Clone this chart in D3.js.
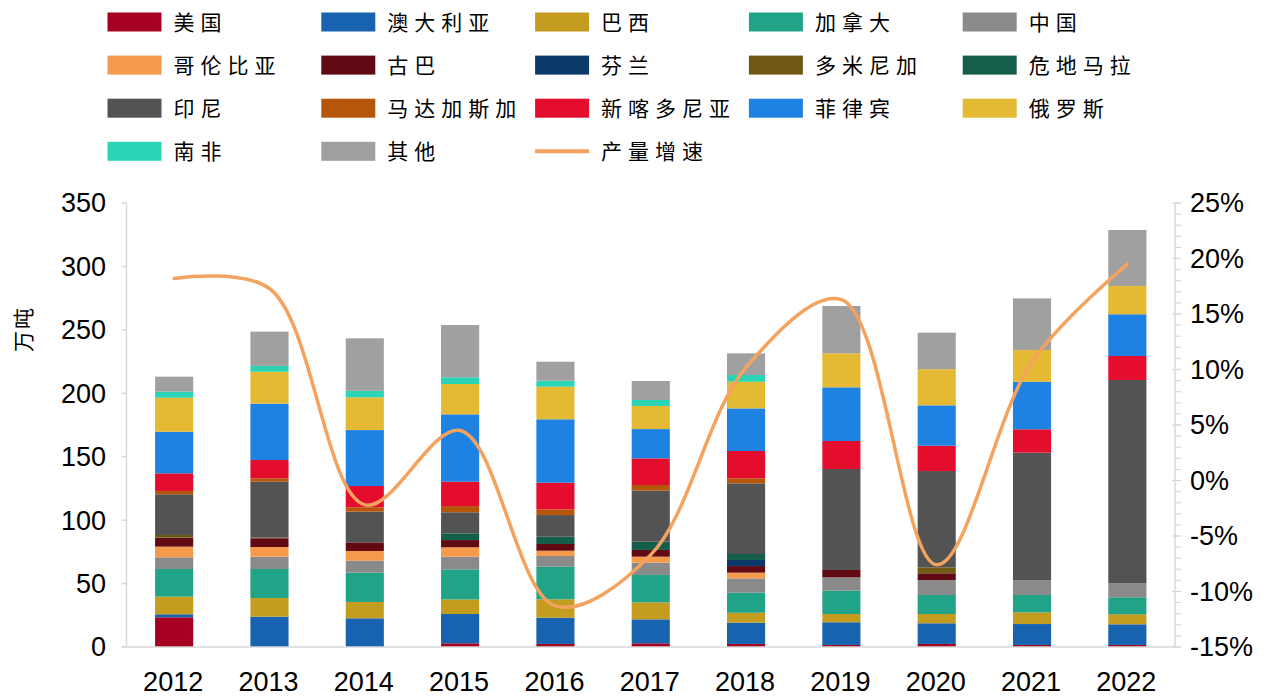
<!DOCTYPE html>
<html>
<head>
<meta charset="utf-8">
<script src="https://cdn.jsdelivr.net/npm/d3@7/dist/d3.min.js"></script>
<style>
  html, body { margin: 0; padding: 0; background: #fff; }
  svg { display: block; }
  .tick-label { font-family: "Liberation Sans", Arial, sans-serif; font-size: 27px; fill: #000; }
  .cjk { font-family: "Noto Sans CJK SC", sans-serif; fill: #000; }
</style>
</head>
<body>
<svg id="chart" width="1269" height="697"></svg>
<script>
// Years on the category axis
const years = ["2012", "2013", "2014", "2015", "2016", "2017", "2018", "2019", "2020", "2021", "2022"];

// Production by country, 万吨 (stacked bottom to top in this order)
const usa        = [23.4, 0,    0,    2.9,  2.4,  2.9,  2.4,  1.6,  2.4,  1.6,  1.6];
const australia  = [2.4,  23.9, 22.6, 23.1, 20.7, 18.9, 16.8, 17.9, 16.3, 16.5, 16.3];
const brazil     = [13.9, 14.7, 12.9, 11.5, 14.5, 13.4, 7.8,  6.5,  7.3,  9.2,  7.9];
const canada     = [21.8, 22.9, 23.1, 23.7, 25.7, 21.6, 15.8, 18.4, 15.0, 13.7, 13.4];
const china      = [9.2,  9.7,  9.4,  10.0, 8.4,  9.7,  11.3, 10.5, 11.8, 11.8, 11.0];
const colombia   = [8.4,  7.6,  7.7,  7.4,  4.2,  4.7,  4.5,  0,    0,    0,    0];
const cuba       = [7.1,  6.9,  6.8,  5.7,  5.3,  5.3,  5.2,  5.8,  5.3,  0,    0];
const finland    = [0,    0,    0,    0,    0,    0,    4.8,  0,    0,    0,    0];
const dominican  = [2.1,  0.5,  0,    0,    0,    0,    0,    0,    4.7,  0,    0];
const guatemala  = [0,    0,    0,    5.3,  5.7,  6.5,  4.7,  0,    0,    0,    0];
const indonesia  = [32.1, 44.1, 24.2, 16.6, 17.1, 40.2, 55.7, 79.6, 75.9, 100.4, 160.3];
const madagascar = [2.6,  2.7,  3.4,  4.9,  4.5,  4.5,  4.0,  0,    0,    0,    0];
const newCaledonia = [13.9, 14.4, 16.8, 19.2, 21.0, 21.0, 21.5, 22.1, 20.0, 18.4, 18.9];
const philippines = [32.8, 44.4, 44.1, 53.1, 50.0, 23.1, 33.6, 42.3, 31.8, 37.5, 32.9];
const russia     = [26.8, 25.2, 25.8, 23.9, 25.7, 18.2, 21.0, 26.8, 28.5, 25.0, 22.3];
const southAfrica = [4.8, 4.6,  5.2,  5.3,  4.7,  4.7,  5.3,  0,    0,    0,    0];
const others     = [11.8, 27.0, 41.3, 41.2, 15.0, 15.0, 17.1, 37.3, 28.8, 40.7, 44.1];

// Year-on-year output growth, %
const growth = [18.2, 17.3, -2.2, 4.5, -11.3, -6.7, 10.2, 16.3, -7.6, 10.7, 19.5];

// Axis ticks
const leftTicks = [0, 50, 100, 150, 200, 250, 300, 350];
const rightTicks = [-15, -10, -5, 0, 5, 10, 15, 20, 25];

const series = [
  { name: "美国", values: usa, color: "#A50021" },
  { name: "澳大利亚", values: australia, color: "#1763B0" },
  { name: "巴西", values: brazil, color: "#C49C1F" },
  { name: "加拿大", values: canada, color: "#20A386" },
  { name: "中国", values: china, color: "#8A8A8A" },
  { name: "哥伦比亚", values: colombia, color: "#F59A4B" },
  { name: "古巴", values: cuba, color: "#610A14" },
  { name: "芬兰", values: finland, color: "#0B3A6A" },
  { name: "多米尼加", values: dominican, color: "#715913" },
  { name: "危地马拉", values: guatemala, color: "#145E4B" },
  { name: "印尼", values: indonesia, color: "#535353" },
  { name: "马达加斯加", values: madagascar, color: "#B5560B" },
  { name: "新喀多尼亚", values: newCaledonia, color: "#E50D2E" },
  { name: "菲律宾", values: philippines, color: "#1E82E2" },
  { name: "俄罗斯", values: russia, color: "#E4B934" },
  { name: "南非", values: southAfrica, color: "#2AD4B4" },
  { name: "其他", values: others, color: "#A0A0A0" }
];
const lineColor = "#F4A35E";
const axisColor = "#D9D9D9";

const svg = d3.select("#chart");

const plot = { left: 126.5, right: 1175, top: 203, bottom: 647 };

const x = d3.scaleBand()
  .domain(years)
  .range([plot.left, plot.right])
  .paddingInner(0.6)
  .paddingOuter(0.3);

const yLeft = d3.scaleLinear().domain([0, 350]).range([plot.bottom, plot.top]);
const yRight = d3.scaleLinear().domain([-15, 25]).range([plot.bottom, plot.top]);

// Stack table built from the series arrays
const table = years.map((yr, i) => {
  const row = { year: yr };
  series.forEach(s => { row[s.name] = s.values[i]; });
  return row;
});
const stacked = d3.stack().keys(series.map(s => s.name))(table);

// Bars
const layers = svg.append("g").selectAll("g")
  .data(stacked)
  .join("g")
  .attr("fill", (d, i) => series[i].color);

layers.selectAll("rect")
  .data(d => d)
  .join("rect")
  .attr("x", d => x(d.data.year))
  .attr("width", x.bandwidth())
  .attr("y", d => yLeft(d[1]))
  .attr("height", d => Math.max(0, yLeft(d[0]) - yLeft(d[1])));

// Left axis
const gL = svg.append("g");
gL.append("line")
  .attr("x1", plot.left).attr("x2", plot.left)
  .attr("y1", plot.top).attr("y2", plot.bottom)
  .attr("stroke", axisColor).attr("stroke-width", 1.5);
gL.selectAll("line.tick")
  .data(leftTicks)
  .join("line")
  .attr("class", "tick")
  .attr("x1", plot.left - 5).attr("x2", plot.left)
  .attr("y1", d => yLeft(d)).attr("y2", d => yLeft(d))
  .attr("stroke", axisColor).attr("stroke-width", 1.5);
gL.selectAll("text")
  .data(leftTicks)
  .join("text")
  .attr("class", "tick-label")
  .attr("x", 106)
  .attr("y", d => yLeft(d))
  .attr("dy", "0.35em")
  .attr("text-anchor", "end")
  .text(d => d);

// Right axis with minor ticks every 1%
const gR = svg.append("g");
gR.append("line")
  .attr("x1", plot.right).attr("x2", plot.right)
  .attr("y1", plot.top).attr("y2", plot.bottom)
  .attr("stroke", axisColor).attr("stroke-width", 1.5);
gR.selectAll("line.minor")
  .data(d3.range(-15, 26, 1))
  .join("line")
  .attr("class", "minor")
  .attr("x1", plot.right).attr("x2", plot.right + 6)
  .attr("y1", d => yRight(d)).attr("y2", d => yRight(d))
  .attr("stroke", axisColor).attr("stroke-width", 1.2);
gR.selectAll("line.major")
  .data(rightTicks)
  .join("line")
  .attr("class", "major")
  .attr("x1", plot.right - 3).attr("x2", plot.right + 6)
  .attr("y1", d => yRight(d)).attr("y2", d => yRight(d))
  .attr("stroke", axisColor).attr("stroke-width", 1.2);
gR.selectAll("text")
  .data(rightTicks)
  .join("text")
  .attr("class", "tick-label")
  .attr("x", 1190)
  .attr("y", d => yRight(d))
  .attr("dy", "0.35em")
  .attr("text-anchor", "start")
  .text(d => d + "%");

// Category axis
const gB = svg.append("g");
gB.append("line")
  .attr("x1", plot.left - 5).attr("x2", plot.right)
  .attr("y1", plot.bottom).attr("y2", plot.bottom)
  .attr("stroke", axisColor).attr("stroke-width", 1.5);
gB.selectAll("text")
  .data(years)
  .join("text")
  .attr("class", "tick-label")
  .attr("x", d => x(d) + x.bandwidth() / 2 - 1)
  .attr("y", 690.5)
  .attr("text-anchor", "middle")
  .text(d => d);

// Y axis title
svg.append("text")
  .attr("class", "cjk")
  .attr("transform", "translate(24,329) rotate(-90)")
  .attr("text-anchor", "middle")
  .attr("dy", "0.35em")
  .style("font-size", "21px")
  .style("letter-spacing", "2px")
  .text("万吨");

// Growth line (smoothed)
const line = d3.line()
  .x((d, i) => x(years[i]) + x.bandwidth() / 2)
  .y(d => yRight(d))
  .curve(d3.curveCatmullRom.alpha(0.5));
svg.append("path")
  .datum(growth)
  .attr("d", line)
  .attr("fill", "none")
  .attr("stroke", lineColor)
  .attr("stroke-width", 3.5)
  .attr("stroke-linecap", "round");

// Legend: 5 columns
const legendItems = series.map(s => ({ name: s.name, color: s.color, type: "rect" }))
  .concat([{ name: "产量增速", color: lineColor, type: "line" }]);
const lg = svg.append("g");
const item = lg.selectAll("g")
  .data(legendItems)
  .join("g")
  .attr("transform", (d, i) => `translate(${107.5 + (i % 5) * 213.8},${22 + Math.floor(i / 5) * 43.1})`);
item.filter(d => d.type === "rect").append("rect")
  .attr("x", 0).attr("y", -9.5)
  .attr("width", 54).attr("height", 19)
  .attr("fill", d => d.color);
item.filter(d => d.type === "line").append("line")
  .attr("x1", 0).attr("x2", 54)
  .attr("y1", 0).attr("y2", 0)
  .attr("stroke", d => d.color)
  .attr("stroke-width", 4);
item.append("text")
  .attr("class", "cjk")
  .attr("x", 66)
  .attr("y", 0)
  .attr("dy", "0.36em")
  .style("font-size", "21px")
  .style("letter-spacing", "6px")
  .text(d => d.name);
</script>
</body>
</html>
